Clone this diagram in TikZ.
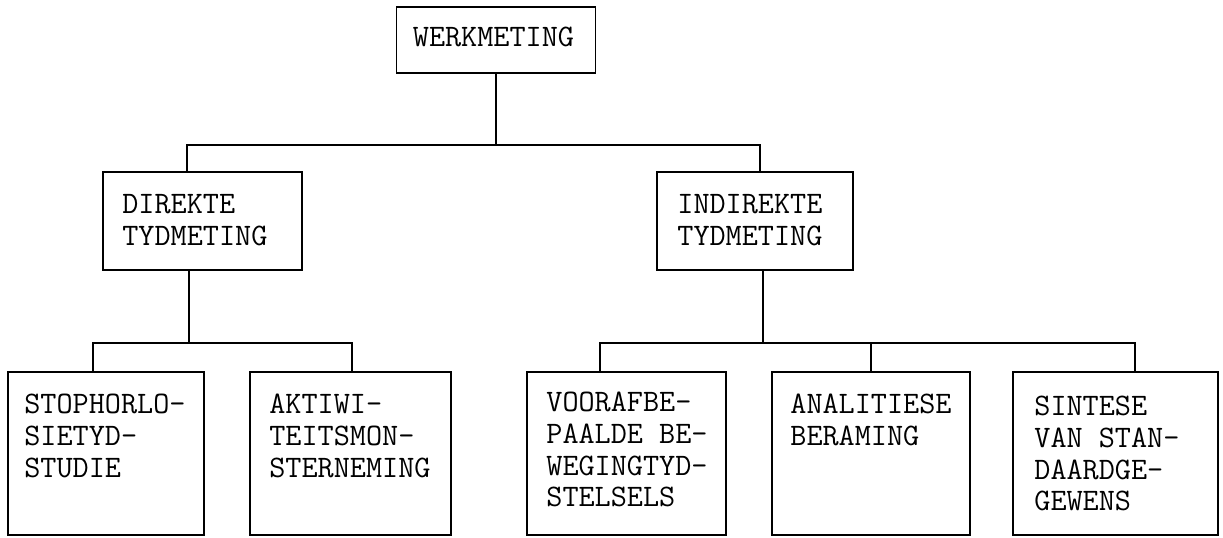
\documentclass[tikz,border=0pt]{standalone}
\usepackage{fontspec}
\usepackage{tikz}
\usetikzlibrary{positioning,calc}

\begin{document}
\begin{tikzpicture}[
    box/.style={draw,line width=1.1pt,inner sep=0pt,minimum height=1.96cm},
    leaf/.style={box,minimum height=3.26cm},
    lbl/.style={anchor=north west,inner sep=0pt,align=left,
      font=\ttfamily\fontsize{17.8}{18}\selectfont},
    wire/.style={line width=1.1pt}]
  \useasboundingbox (0,0) rectangle (24.46,-10.74);
  % boxes
  \node[box,minimum width=3.98cm,minimum height=1.32cm] (werk) at (9.92,-0.80){};
  \node[box,minimum width=3.98cm] (dir) at (4.05,-4.42){};
  \node[box,minimum width=3.92cm] (ind) at (15.10,-4.42){};
  \node[leaf,minimum width=3.92cm] (stop) at (2.12,-9.07){};
  \node[leaf,minimum width=4.02cm] (akt) at (7.01,-9.07){};
  \node[leaf,minimum width=3.98cm] (voor) at (12.53,-9.07){};
  \node[leaf,minimum width=3.96cm] (anal) at (17.42,-9.07){};
  \node[leaf,minimum width=4.10cm] (sint) at (22.31,-9.07){};
  % texts
  \node[lbl] (werkT) at ([shift={(0.34,-0.42)}]werk.north west){WERKMETING};
  \node[lbl] (dirT) at ([shift={(0.40,-0.46)}]dir.north west){DIREKTE\\TYDMETING};
  \node[lbl] (indT) at ([shift={(0.42,-0.46)}]ind.north west){INDIREKTE\\TYDMETING};
  \node[lbl] (stopT) at ([shift={(0.34,-0.46)}]stop.north west){STOPHORLO-\\SIETYD-\\STUDIE};
  \node[lbl] (aktT) at ([shift={(0.40,-0.46)}]akt.north west){AKTIWI-\\TEITSMON-\\STERNEMING};
  \node[lbl] (voorT) at ([shift={(0.40,-0.42)}]voor.north west){VOORAFBE-\\PAALDE BE-\\WEGINGTYD-\\STELSELS};
  \node[lbl] (analT) at ([shift={(0.38,-0.46)}]anal.north west){ANALITIESE\\BERAMING};
  \node[lbl] (sintT) at ([shift={(0.44,-0.50)}]sint.north west){SINTESE\\VAN STAN-\\DAARDGE-\\GEWENS};
  % junctions
  \coordinate (b1l) at (3.74,-2.90); \coordinate (b1r) at (15.20,-2.90);
  \coordinate (b2l) at (1.86,-6.86); \coordinate (b2m) at (3.78,-6.86);
  \coordinate (b2r) at (7.04,-6.86);
  \coordinate (b3l) at (12.00,-6.86); \coordinate (b3t) at (15.26,-6.86);
  \coordinate (b3m) at (17.42,-6.86); \coordinate (b3r) at (22.70,-6.86);
  % connectors
  \draw[wire] (werk) -- (werk |- b1l);
  \draw[wire] (b1l |- dir.north) -- (b1l) -- (b1r) -- (b1r |- ind.north);
  \draw[wire] (b2m |- dir.south) -- (b2m);
  \draw[wire] (b2l |- stop.north) -- (b2l) -- (b2r) -- (b2r |- akt.north);
  \draw[wire] (b3t |- ind.south) -- (b3t);
  \draw[wire] (b3l |- voor.north) -- (b3l) -- (b3r) -- (b3r |- sint.north);
  \draw[wire] (b3m) -- (b3m |- anal.north);
\end{tikzpicture}
\end{document}
